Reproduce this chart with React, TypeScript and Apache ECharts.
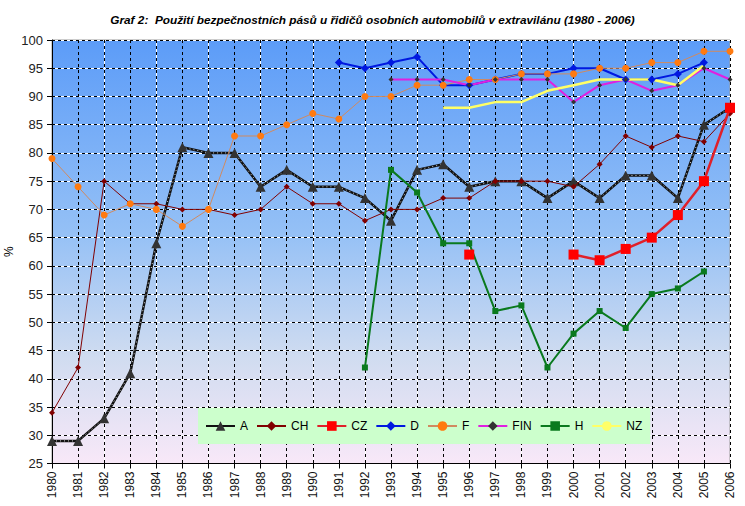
import React, { useEffect, useRef } from "react";
import * as echarts from "echarts";

const years = ["1980","1981","1982","1983","1984","1985","1986","1987","1988","1989","1990","1991","1992","1993","1994","1995","1996","1997","1998","1999","2000","2001","2002","2003","2004","2005","2006"];
const _ = null;
const seriesA = [29,29,33,41,64,81,80,80,74,77,74,74,72,68,77,78,74,75,75,72,75,72,76,76,72,85,88];
const seriesCH = [34,42,75,71,71,70,70,69,70,74,71,71,68,70,70,72,72,75,75,75,74,78,83,81,83,82,87];
const seriesCZ = [_,_,_,_,_,_,_,_,_,_,_,_,_,_,_,_,62,_,_,_,62,61,63,65,69,75,88];
const seriesD = [_,_,_,_,_,_,_,_,_,_,_,96,95,96,97,92,92,93,94,94,95,95,93,93,94,96,_];
const seriesF = [79,74,69,71,70,67,70,83,83,85,87,86,90,90,92,92,93,93,94,94,94,95,95,96,96,98,98];
const seriesFIN = [_,_,_,_,_,_,_,_,_,_,_,_,_,93,93,93,92,93,93,93,89,92,93,91,92,95,93];
const seriesH = [_,_,_,_,_,_,_,_,_,_,_,_,42,77,73,64,64,52,53,42,48,52,49,55,56,59,_];
const seriesNZ = [_,_,_,_,_,_,_,_,_,_,_,_,_,_,_,88,88,89,89,91,92,93,93,93,92,95.5,_];
const legendNames = ["A","CH","CZ","D","F","FIN","H","NZ"];
const titleText = "Graf 2:  Použití bezpečnostních pásů u řidičů osobních automobilů v extravilánu (1980 - 2006)";

const FONT = "'Liberation Sans', Arial, sans-serif";

export default function App() {
  const ref = useRef<HTMLDivElement>(null);
  useEffect(() => {
    if (!ref.current) return;
    const chart = echarts.init(ref.current, null, { renderer: "svg" });
    const baseX = {
      type: "category",
      data: years,
      boundaryGap: false,
      position: "bottom",
    };
    chart.setOption({
      animation: false,
      backgroundColor: "#ffffff",
      title: {
        text: titleText,
        left: "center",
        top: 9,
        textStyle: { fontFamily: "'Liberation Sans Narrow', 'Arial Narrow', " + FONT, fontSize: 11.8, fontWeight: "bold", fontStyle: "italic", color: "#000" },
      },
      grid: {
        left: 52,
        right: 15,
        top: 40,
        bottom: 42.5,
        containLabel: false,
        outerBoundsMode: "none",
        show: true,
        borderColor: "#9a9a9a",
        borderWidth: 1,
        backgroundColor: new echarts.graphic.LinearGradient(0, 0, 0, 1, [
          { offset: 0, color: "#5c9cf8" },
          { offset: 0.45, color: "#94c0f6" },
          { offset: 0.75, color: "#d0dcf0" },
          { offset: 1, color: "#f8e8f8" },
        ]),
      },
      legend: {
        data: legendNames,
        left: 198,
        top: 408,
        padding: [12, 8, 12, 7],
        itemGap: 8,
        itemWidth: 29,
        itemHeight: 12,
        backgroundColor: "#ccffcc",
        textStyle: { fontFamily: FONT, fontSize: 12, color: "#000" },
      },
      xAxis: [
        {
          ...baseX,
          z: 1,
          axisLine: { show: false },
          axisTick: { show: false },
          axisLabel: { show: false },
          splitLine: { show: true, lineStyle: { color: "#ffffff", width: 1, type: "solid" } },
        },
        {
          ...baseX,
          z: 2,
          axisLine: { show: true, onZero: false, lineStyle: { color: "#000", width: 1 } },
          axisTick: { show: true, length: 5, inside: false, lineStyle: { color: "#000" } },
          axisLabel: { show: true, rotate: 90, margin: 8, fontFamily: FONT, fontSize: 12, color: "#111", interval: 0 },
          splitLine: { show: true, lineStyle: { color: "#000000", width: 1, type: [3, 3] } },
        },
      ],
      yAxis: [
        {
          type: "value",
          position: "left",
          min: 25,
          max: 100,
          interval: 5,
          z: 1,
          axisLine: { show: false },
          axisTick: { show: false },
          axisLabel: { show: false },
          splitLine: { show: true, lineStyle: { color: "#ffffff", width: 1, type: "solid" } },
        },
        {
          type: "value",
          position: "left",
          offset: 0,
          min: 25,
          max: 100,
          interval: 5,
          z: 2,
          name: "%",
          nameLocation: "middle",
          nameGap: 37,
          nameRotate: 90,
          nameMoveOverlap: false,
          nameTextStyle: { fontFamily: FONT, fontSize: 12, color: "#000" },
          axisLine: { show: true, onZero: false, lineStyle: { color: "#000", width: 1 } },
          axisTick: { show: true, length: 5, lineStyle: { color: "#000" } },
          axisLabel: { show: true, margin: 9, fontFamily: FONT, fontSize: 13, color: "#222" },
          splitLine: { show: true, lineStyle: { color: "#000000", width: 1, type: [3, 3] } },
        },
      ],
      series: [
        {
          name: "A", type: "line", data: seriesA, xAxisIndex: 1, yAxisIndex: 1, z: 3,
          lineStyle: { color: "#111", width: 2.5 },
          itemStyle: { color: "#333333" },
          symbol: "triangle", symbolSize: 10, showAllSymbol: true,
        },
        {
          name: "A_overlay", type: "line", data: seriesA, xAxisIndex: 1, yAxisIndex: 1, z: 3,
          lineStyle: { color: "#ffffff", width: 0.8, type: [1, 3] },
          symbol: "none", silent: true, legendHoverLink: false,
        },
        {
          name: "CH", type: "line", data: seriesCH, xAxisIndex: 1, yAxisIndex: 1, z: 4,
          lineStyle: { color: "#800000", width: 1 },
          itemStyle: { color: "#800000" },
          symbol: "diamond", symbolSize: 6, showAllSymbol: true,
        },
        {
          name: "CZ", type: "line", data: seriesCZ, xAxisIndex: 1, yAxisIndex: 1, z: 5,
          lineStyle: { color: "#e0202a", width: 2.5 },
          itemStyle: { color: "#ff0000" },
          symbol: "rect", symbolSize: 10, showAllSymbol: true,
        },
        {
          name: "D", type: "line", data: seriesD, xAxisIndex: 1, yAxisIndex: 1, z: 4,
          lineStyle: { color: "#0018e0", width: 2 },
          itemStyle: { color: "#0018e0" },
          symbol: "diamond", symbolSize: 8, showAllSymbol: true,
        },
        {
          name: "F", type: "line", data: seriesF, xAxisIndex: 1, yAxisIndex: 1, z: 4,
          lineStyle: { color: "#d08a60", width: 1 },
          itemStyle: { color: "#ff7a10" },
          symbol: "circle", symbolSize: 7, showAllSymbol: true,
        },
        {
          name: "FIN", type: "line", data: seriesFIN, xAxisIndex: 1, yAxisIndex: 1, z: 4,
          lineStyle: { color: "#e020e0", width: 2 },
          itemStyle: { color: "#333333" },
          symbol: "diamond", symbolSize: 5, showAllSymbol: true,
        },
        {
          name: "H", type: "line", data: seriesH, xAxisIndex: 1, yAxisIndex: 1, z: 4,
          lineStyle: { color: "#0a7a1e", width: 2 },
          itemStyle: { color: "#0a7a1e" },
          symbol: "rect", symbolSize: 6, showAllSymbol: true,
        },
        {
          name: "NZ", type: "line", data: seriesNZ, xAxisIndex: 1, yAxisIndex: 1, z: 4,
          lineStyle: { color: "#ffff66", width: 2.5 },
          itemStyle: { color: "#ffff66" },
          symbol: "none",
        },
      ],
    });
    return () => chart.dispose();
  }, []);
  return <div ref={ref} style={{ width: 745, height: 506, position: "absolute", left: 0, top: 0 }} />;
}
